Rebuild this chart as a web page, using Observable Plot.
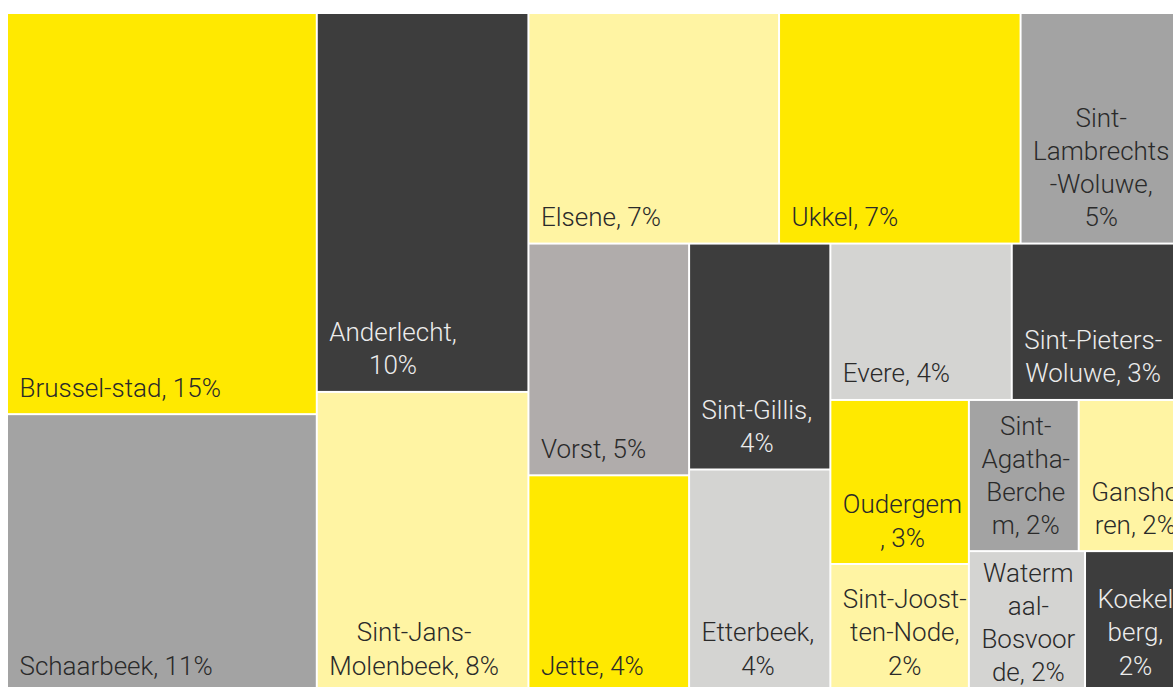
<!DOCTYPE html>
<html>
<head>
<meta charset="utf-8">
<script src="https://cdn.jsdelivr.net/npm/d3@7"></script>
<script src="https://cdn.jsdelivr.net/npm/@observablehq/plot@0.6"></script>
<style>
  html, body { margin: 0; padding: 0; background: #fff; overflow: hidden; }
  #chart { width: 1173px; height: 687px; overflow: hidden; position: relative; background: #fff; }
  #chart svg { display: block; max-width: none !important; }
</style>
</head>
<body>
<div id="chart"></div>
<script>
// ---- data (share of the Brussels population, %) ----
const municipalities = [
  "Brussel-stad", "Schaarbeek", "Anderlecht", "Sint-Jans-Molenbeek", "Elsene", "Ukkel",
  "Sint-Lambrechts-Woluwe", "Vorst", "Jette", "Sint-Gillis", "Etterbeek", "Evere",
  "Sint-Pieters-Woluwe", "Oudergem", "Sint-Joost-ten-Node", "Sint-Agatha-Berchem",
  "Ganshoren", "Watermaal-Bosvoorde", "Koekelberg"
];
const shares = [
  15.42, 10.68, 9.95, 7.88, 7.17, 6.91,
  4.79, 4.62, 4.32, 3.96, 3.9, 3.52,
  3.42, 2.82, 2.2, 2.06,
  2.05, 2.03, 1.8
];
// labels as wrapped in the original
const labels = [
  "Brussel-stad, 15%", "Schaarbeek, 11%", "Anderlecht,\n10%", "Sint-Jans-\nMolenbeek, 8%",
  "Elsene, 7%", "Ukkel, 7%", "Sint-\nLambrechts\n-Woluwe,\n5%", "Vorst, 5%", "Jette, 4%",
  "Sint-Gillis,\n4%", "Etterbeek,\n4%", "Evere, 4%", "Sint-Pieters-\nWoluwe, 3%",
  "Oudergem\n, 3%", "Sint-Joost-\nten-Node,\n2%", "Sint-\nAgatha-\nBerche\nm, 2%",
  "Gansho\nren, 2%", "Waterm\naal-\nBosvoor\nde, 2%", "Koekel\nberg,\n2%"
];

// ---- styles ----
const YEL = "#FFE900", DARK = "#3D3D3D", LYEL = "#FFF4A3", GREY = "#A3A3A3", WGREY = "#B0ACAB", LGREY = "#D4D4D2";
const palette = [YEL, GREY, DARK, LYEL, LYEL, YEL, GREY, WGREY, YEL, DARK, LGREY, LGREY, DARK, YEL, LYEL, GREY, LYEL, LGREY, DARK];
const darkFill = new Set([DARK]);

const W = 1179, H = 677, LEFT = 8, TOP = 14;
const FONT_SIZE = 26, FONT = "Roboto", WEIGHT = 300, LINE_H = 1.27;
const PAD_X = 11, PAD_BOTTOM = 17, PAD_TOP = 11, CAP = 0.711 * FONT_SIZE;

// squarified tiling with a target aspect (thickness / length) of TARGET
const TARGET = 0.87;
function squarifyTile(parent, x0, y0, x1, y1) {
  const nodes = parent.children, n = nodes.length;
  let value = parent.value, i0 = 0, i1 = 0;
  while (i0 < n) {
    const dx = x1 - x0, dy = y1 - y0;
    let sum = nodes[i1++].value, minV = sum, maxV = sum;
    const alpha = Math.max(dy / dx, dx / dy) / (value * TARGET);
    let beta = sum * sum * alpha;
    let minRatio = Math.max(maxV / beta, beta / minV);
    for (; i1 < n; ++i1) {
      const v = nodes[i1].value;
      sum += v;
      const mn = Math.min(minV, v), mx = Math.max(maxV, v);
      beta = sum * sum * alpha;
      const r = Math.max(mx / beta, beta / mn);
      if (r > minRatio) { sum -= v; break; }
      minRatio = r; minV = mn; maxV = mx;
    }
    const row = {value: sum, children: nodes.slice(i0, i1)};
    if (dx < dy) d3.treemapDice(row, x0, y0, x1, dy ? (y0 += dy * sum / value) : y1);
    else d3.treemapSlice(row, x0, y0, dx ? (x0 += dx * sum / value) : x1, y1);
    value -= sum; i0 = i1;
  }
}

const data = municipalities.map((name, i) => ({name, value: shares[i], label: labels[i], color: palette[i]}));
const root = d3.hierarchy({children: data}).sum(d => d.value || 0).sort((a, b) => b.value - a.value);
d3.treemap().size([W, H]).paddingInner(2).tile(squarifyTile)(root);

const ctx = document.createElement("canvas").getContext("2d");
ctx.font = `${WEIGHT} ${FONT_SIZE}px "${FONT}"`;
const tiles = root.leaves().map(l => {
  const lines = l.data.label.split("\n");
  const bw = d3.max(lines, s => ctx.measureText(s).width);
  const lh = LINE_H * FONT_SIZE;
  return {
    name: l.data.name, label: l.data.label, dark: darkFill.has(l.data.color),
    x1: l.x0, x2: l.x1, y1: l.y0, y2: l.y1,
    lx: l.x0 + PAD_X + bw / 2,
    ly: Math.max(l.y1 - PAD_BOTTOM, l.y0 + PAD_TOP + CAP + (lines.length - 1) * lh)
  };
});

const textOpts = {
  x: "lx", y: "ly", text: "label", textAnchor: "middle", lineAnchor: "bottom",
  lineHeight: LINE_H, fontSize: FONT_SIZE, fontFamily: FONT, fontWeight: WEIGHT
};

const chart = Plot.plot({
  width: LEFT + W + 3, height: TOP + H + 1,
  margin: 0,
  style: {background: "#fff", overflow: "visible", maxWidth: "none"},
  x: {domain: [0, W], range: [LEFT, LEFT + W], axis: null},
  y: {domain: [0, H], range: [TOP, TOP + H], axis: null},
  color: {domain: municipalities, range: palette},
  marks: [
    Plot.rect(tiles, {x1: "x1", x2: "x2", y1: "y1", y2: "y2", fill: "name"}),
    Plot.text(tiles.filter(d => !d.dark), {...textOpts, fill: "#2a2a2a"}),
    Plot.text(tiles.filter(d => d.dark), {...textOpts, fill: "#ececec"})
  ]
});
chart.style.maxWidth = "none";
chart.style.height = (TOP + H + 1) + "px";
document.getElementById("chart").append(chart);
</script>
</body>
</html>
